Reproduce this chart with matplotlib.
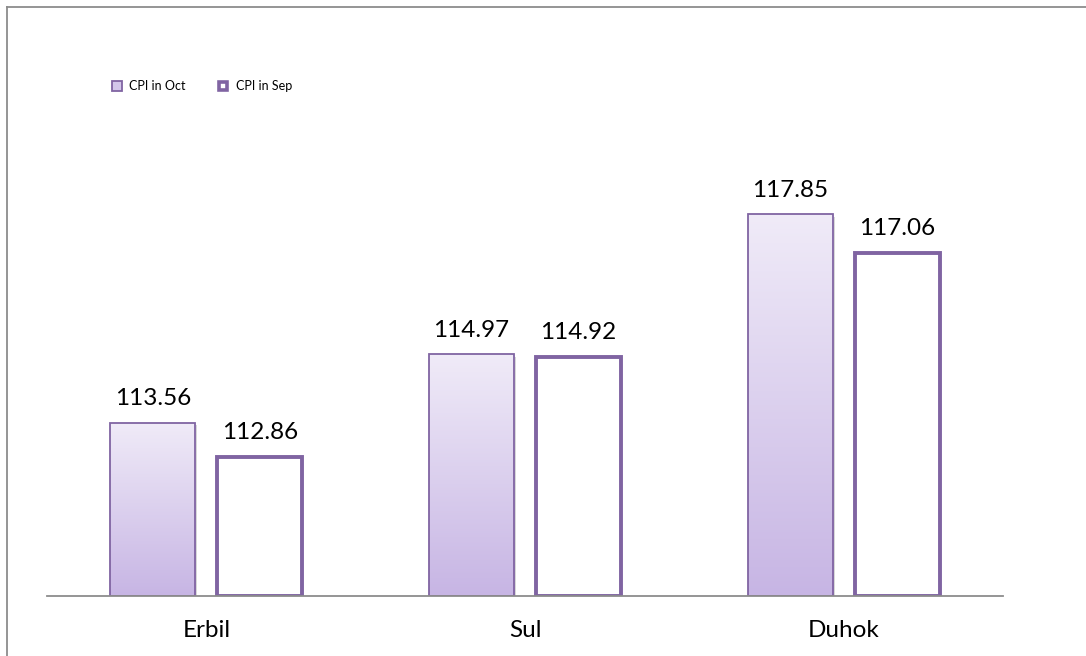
import matplotlib
matplotlib.use("Agg")
import matplotlib.pyplot as plt
import numpy as np
from matplotlib.lines import Line2D
from matplotlib.patches import Rectangle
from matplotlib.colors import LinearSegmentedColormap

categories = ["Erbil", "Sul", "Duhok"]
cpi_oct = [113.56, 114.97, 117.85]
cpi_sep = [112.86, 114.92, 117.06]
series_names = ["CPI in Oct", "CPI in Sep"]

plt.rcParams['font.family'] = ['Lato', 'DejaVu Sans']

purple = "#8064A2"
fig = plt.figure(figsize=(10.86, 6.56), dpi=100)
ax = fig.add_axes([47/1086, 60/656, 956/1086, 486/656])
ymin, ymax = 110, 120
ax.set_xlim(-0.5, 2.5)
ax.set_ylim(ymin, ymax)

x = np.arange(len(categories))
w = 0.267
off = 0.168

cmap = LinearSegmentedColormap.from_list("g", ["#C7B5E4", "#F0EBF8"])
grad = np.linspace(0, 1, 256).reshape(-1, 1)

bars_oct = ax.bar(x - off, [v - ymin for v in cpi_oct], w, bottom=ymin,
                  facecolor="none", edgecolor=purple, linewidth=1.3, zorder=3)
for b in bars_oct:
    x0, y0 = b.get_x(), b.get_y()
    bw, bh = b.get_width(), b.get_height()
    sh = Rectangle((x0 + 0.006, y0), bw, bh - 0.05, facecolor="#d8d8d8", edgecolor="none", zorder=1)
    ax.add_patch(sh)
    im = ax.imshow(grad, cmap=cmap, extent=[x0, x0 + bw, y0, y0 + bh],
                   origin="lower", aspect="auto", zorder=2)
    im.set_clip_path(b)
ax.set_aspect("auto")
ax.set_xlim(-0.5, 2.5)
ax.set_ylim(ymin, ymax)

ax.bar(x + off, [v - ymin for v in cpi_sep], w, bottom=ymin,
       facecolor="white", edgecolor=purple, linewidth=2.8, zorder=3)

for xi, v in zip(x - off, cpi_oct):
    ax.annotate(f"{v:.2f}", (xi, v), xytext=(0, 10), textcoords="offset points",
                ha="center", va="bottom", fontsize=17.5, color="black")
for xi, v in zip(x + off, cpi_sep):
    ax.annotate(f"{v:.2f}", (xi, v), xytext=(0, 10), textcoords="offset points",
                ha="center", va="bottom", fontsize=17.5, color="black")

for s in ["top", "right", "left"]:
    ax.spines[s].set_visible(False)
ax.spines["bottom"].set_color("#8c8c8c")
ax.spines["bottom"].set_linewidth(1.3)
ax.spines["bottom"].set_zorder(4)
ax.set_yticks([])
ax.set_xticks(x)
ax.set_xticklabels(categories, fontsize=17.5)
ax.tick_params(axis="x", length=0, pad=17)

handles = [
    Line2D([], [], marker="s", linestyle="none", markersize=6.5,
           markerfacecolor="#D3C6EA", markeredgecolor=purple, markeredgewidth=1.3),
    Line2D([], [], marker="s", linestyle="none", markersize=6,
           markerfacecolor="white", markeredgecolor=purple, markeredgewidth=2.6),
]
fig.legend(handles, series_names, loc="center left", bbox_to_anchor=(104/1086, 1 - 86/656),
           ncol=2, frameon=False, fontsize=9, handletextpad=0.5, columnspacing=2.5,
           handlelength=1.0, borderpad=0)

fig.add_artist(Line2D([7/1086, 1], [1 - 7/656, 1 - 7/656], transform=fig.transFigure,
                      color="#8c8c8c", linewidth=1.3))
fig.add_artist(Line2D([7/1086, 7/1086], [0, 1 - 7/656], transform=fig.transFigure,
                      color="#8c8c8c", linewidth=1.3))

fig.savefig("out.png", dpi=100)
